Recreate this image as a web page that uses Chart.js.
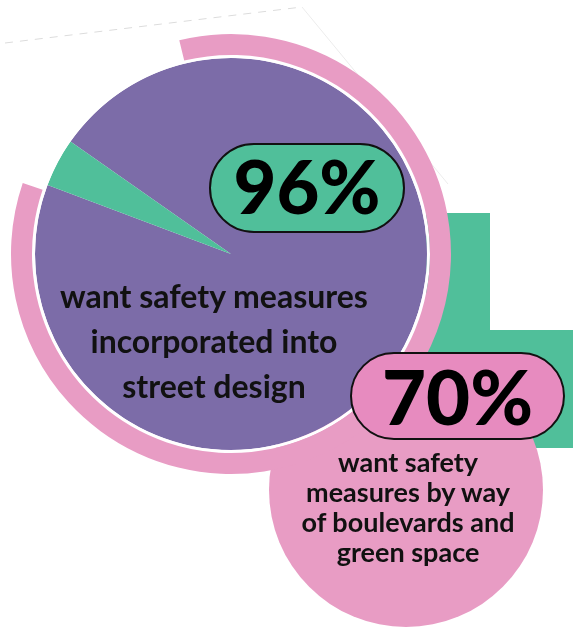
<!DOCTYPE html>
<html>
<head>
<meta charset="utf-8">
<script src="https://cdn.jsdelivr.net/npm/chart.js@4.4.1/dist/chart.umd.min.js"></script>
<style>
  body { margin: 0; background: #fff; }
  .wrap { position: relative; width: 573px; height: 629px; overflow: hidden; font-family: 'Lato', sans-serif; }
  canvas { position: absolute; left: 0; top: 0; }
  .pill { position: absolute; box-sizing: border-box; border: 2px solid #111; border-radius: 46px;
          display: flex; align-items: center; justify-content: center; font-weight: 900; color: #000; }
  .txt { position: absolute; text-align: center; color: #111; font-weight: 700; }
</style>
</head>
<body>
<div class="wrap">
  <canvas id="chart" width="573" height="629"></canvas>
  <div class="pill" id="pill1" style="left:209px;top:143px;width:196px;height:90px;background:#50bf9a;font-size:74px;padding-bottom:5px;"></div>
  <div class="txt" id="text1" style="left:14px;top:273px;width:400px;font-size:32px;line-height:45px;"></div>
  <div class="pill" id="pill2" style="left:350px;top:352px;width:215px;height:88px;background:#e78bbf;font-size:76px;padding-bottom:2px;"></div>
  <div class="txt" id="text2" style="left:258px;top:447px;width:300px;font-size:27px;line-height:30px;"></div>
</div>
<script>
// survey shares
const pieLabels = ['want safety measures in street design', 'other'];
const pieValues = [96, 4];
const ringValues = [84, 16];
const gapValues = [100];
const secondValue = 70;

const label1 = ['want safety measures', 'incorporated into', 'street design'];
const label2 = ['want safety', 'measures by way', 'of boulevards and', 'green space'];

const purple = '#7c6ca8';
const green = '#50bf9a';
const pink = '#e89cc4';

document.getElementById('pill1').textContent = pieValues[0] + '%';
document.getElementById('pill2').textContent = secondValue + '%';
document.getElementById('text1').innerHTML = label1.join('<br>');
document.getElementById('text2').innerHTML = label2.join('<br>');

// background decoration: dashed guide, green L block, pink circle
const backdrop = {
  id: 'backdrop',
  beforeDatasetsDraw(chart) {
    const ctx = chart.ctx;
    ctx.save();
    ctx.strokeStyle = '#dcdcdc';
    ctx.lineWidth = 1;
    ctx.setLineDash([8, 7]);
    ctx.beginPath();
    ctx.moveTo(5, 43);
    ctx.lineTo(302, 7);
    ctx.stroke();
    ctx.setLineDash([]);
    ctx.strokeStyle = '#ececec';
    ctx.beginPath();
    ctx.moveTo(302, 7);
    ctx.lineTo(448, 184);
    ctx.stroke();

    ctx.fillStyle = green;
    ctx.beginPath();
    ctx.moveTo(426, 213);
    ctx.lineTo(490, 213);
    ctx.lineTo(490, 330);
    ctx.lineTo(573, 330);
    ctx.lineTo(573, 448);
    ctx.lineTo(426, 448);
    ctx.closePath();
    ctx.fill();

    ctx.fillStyle = pink;
    ctx.beginPath();
    ctx.arc(406, 490, 137, 0, Math.PI * 2);
    ctx.fill();
    ctx.restore();
  }
};

new Chart(document.getElementById('chart'), {
  type: 'pie',
  data: {
    labels: pieLabels,
    datasets: [
      {
        data: ringValues,
        backgroundColor: [pink, 'rgba(0,0,0,0)'],
        borderWidth: 0,
        rotation: -13.6,
        weight: 21
      },
      {
        data: gapValues,
        backgroundColor: ['#ffffff'],
        borderWidth: 0,
        weight: 3
      },
      {
        data: pieValues,
        backgroundColor: [purple, green],
        borderWidth: 0,
        rotation: -55,
        weight: 196
      }
    ]
  },
  options: {
    responsive: false,
    animation: false,
    events: [],
    layout: { padding: { left: 11, right: 122, top: 34, bottom: 155 } },
    plugins: {
      legend: { display: false },
      tooltip: { enabled: false }
    }
  },
  plugins: [backdrop]
});
</script>
</body>
</html>
